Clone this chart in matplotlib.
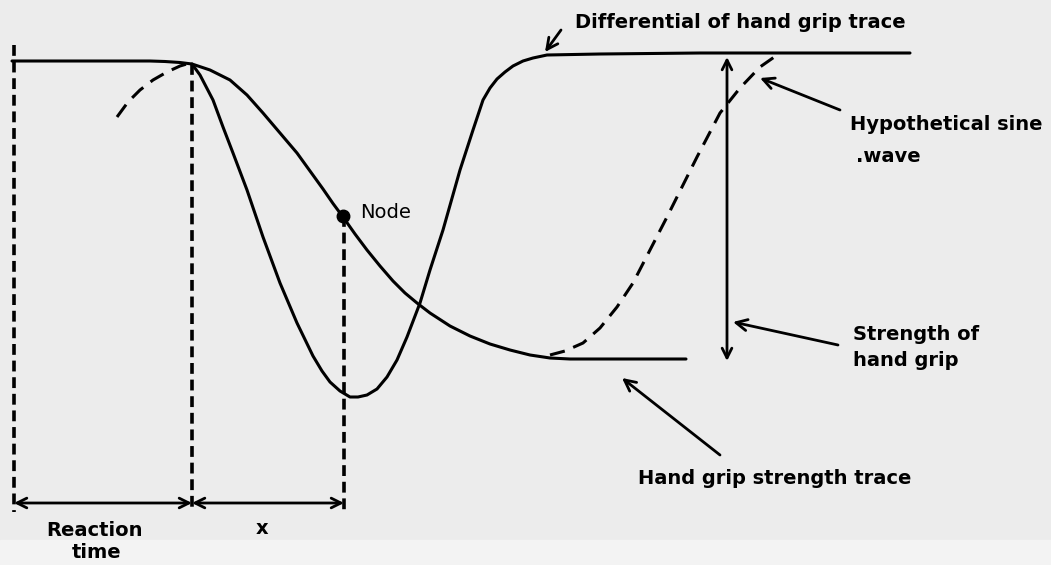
import numpy as np
import matplotlib
matplotlib.use('Agg')
import matplotlib.pyplot as plt

# picture coordinates (pixels from top-left of the original scan)
grip_x = [12, 60, 120, 150, 165, 180, 192, 210, 230, 247, 263, 280, 297, 310, 323, 333, 343,
          355, 367, 380, 393, 405, 417, 430, 450, 470, 490, 510, 530, 550, 570, 600, 640, 686]
grip_y = [61, 61, 61, 61, 61.5, 62.5, 64, 70, 80, 95, 113, 133, 153, 171, 189, 203.5, 217,
          234, 250, 266, 281, 293, 303, 313, 326, 336, 344, 350, 355, 358, 359, 359, 359, 359]

diff_x = [192, 200, 213, 223, 233, 247, 263, 280, 297, 313, 322, 330, 340, 350, 358, 367, 377, 387,
          397, 407, 420, 430, 443, 460, 473, 483, 490, 497, 505, 513, 523, 533, 547, 600, 700, 800, 910]
diff_y = [64, 75, 100, 127, 153, 190, 237, 283, 323, 356, 371, 382, 391, 397, 397, 395, 389, 377,
          360, 337, 303, 270, 230, 170, 130, 100, 88, 79, 72, 66, 61, 58, 55, 54, 53, 53, 53]

sine_x = [550, 565, 583, 600, 617, 633, 650, 667, 697, 720, 740, 760, 780]
sine_y = [355, 351, 343, 328, 307, 283, 250, 217, 157, 113, 88, 67, 53]

arc_x = [117, 128, 140, 153, 167, 180, 190]
arc_y = [117, 102, 90, 80, 72, 66, 63]

node = (343, 216)
guide_x = [14, 192, 344]
guide_top = [45, 64, 216]
guide_bottom = 512
span_y = 503
strength_x = 727
strength_top, strength_bottom = 57, 361

fig = plt.figure(figsize=(10.51, 5.65), dpi=100)
fig.patch.set_facecolor('#ececec')
ax = fig.add_axes([0, 0, 1, 1])
ax.set_xlim(0, 1051)
ax.set_ylim(565, 0)
ax.axis('off')
ax.axhspan(540, 565, color='#f3f3f3', zorder=0)

lw = 2.2
ax.plot(grip_x, grip_y, color='black', lw=lw, solid_capstyle='round', solid_joinstyle='round')
ax.plot(diff_x, diff_y, color='black', lw=lw, solid_capstyle='round', solid_joinstyle='round')
ax.plot(sine_x, sine_y, color='black', lw=lw, dashes=(5, 3))
ax.plot(arc_x, arc_y, color='black', lw=lw, dashes=(5, 3))
ax.plot(*node, 'o', color='black', markersize=9)

for gx, gt in zip(guide_x, guide_top):
    ax.plot([gx, gx], [gt, guide_bottom], color='black', lw=2.6, dashes=(3, 1.6))

arrow = dict(arrowstyle='<->,head_length=0.7,head_width=0.35', color='black', lw=2)
ax.annotate('', xy=(guide_x[0], span_y), xytext=(guide_x[1], span_y), arrowprops=dict(arrow, shrinkA=0, shrinkB=0))
ax.annotate('', xy=(guide_x[1], span_y), xytext=(guide_x[2], span_y), arrowprops=dict(arrow, shrinkA=0, shrinkB=0))
ax.annotate('', xy=(strength_x, strength_top), xytext=(strength_x, strength_bottom), arrowprops=dict(arrow, shrinkA=0, shrinkB=0))

pointer = dict(arrowstyle='->,head_length=0.8,head_width=0.4', color='black', lw=2, shrinkA=0, shrinkB=0)
ax.annotate('', xy=(545, 52), xytext=(561, 30), arrowprops=pointer)
ax.annotate('', xy=(760, 78), xytext=(840, 110), arrowprops=pointer)
ax.annotate('', xy=(733, 322), xytext=(838, 345), arrowprops=pointer)
ax.annotate('', xy=(622, 378), xytext=(720, 455), arrowprops=pointer)

font = dict(family='DejaVu Sans', fontsize=14, fontweight='bold', color='black')
ax.text(575, 23, 'Differential of hand grip trace', ha='left', va='center', **font)
ax.text(850, 125, 'Hypothetical sine', ha='left', va='center', **font)
ax.text(856, 156, '.wave', ha='left', va='center', **font)
ax.text(853, 334, 'Strength of', ha='left', va='center', **font)
ax.text(853, 361, 'hand grip', ha='left', va='center', **font)
ax.text(638, 479, 'Hand grip strength trace', ha='left', va='center', **font)
ax.text(360, 212, 'Node', ha='left', va='center', family='DejaVu Sans', fontsize=14, color='black')
ax.text(95, 530, 'Reaction', ha='center', va='center', **font)
ax.text(97, 553, 'time', ha='center', va='center', **font)
ax.text(262, 529, 'x', ha='center', va='center', **font)

fig.savefig('out.png', dpi=100, facecolor=fig.get_facecolor())
